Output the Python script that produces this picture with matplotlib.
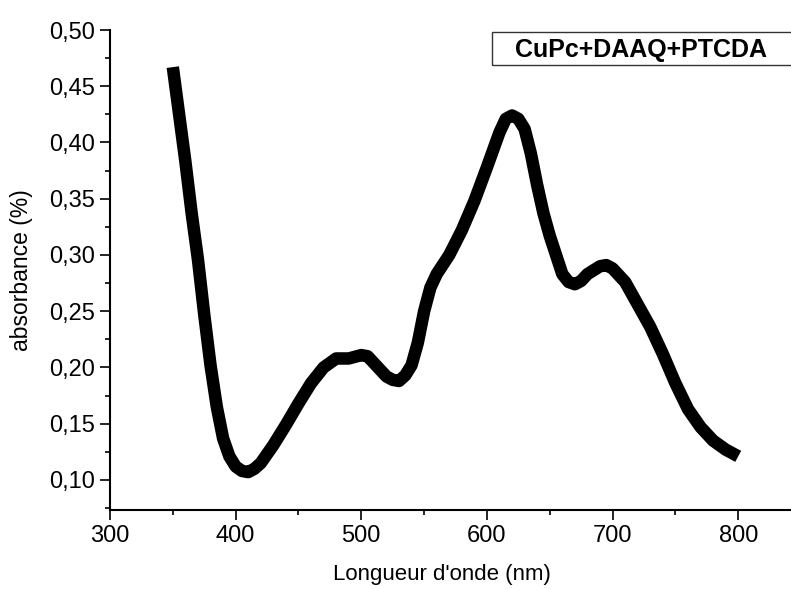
import matplotlib
matplotlib.use("Agg")
import matplotlib.pyplot as plt
from matplotlib.patches import Rectangle
from matplotlib.ticker import MultipleLocator, FuncFormatter

# Absorption spectrum of the CuPc+DAAQ+PTCDA film
wavelength_nm = [350, 355, 360, 365, 370, 375, 380, 385, 390, 395, 400, 405, 410,
                 415, 420, 430, 440, 450, 460, 470, 480, 490, 500, 505, 510, 520,
                 525, 530, 535, 540, 545, 550, 555, 560, 570, 580, 590, 600, 610,
                 615, 620, 625, 630, 635, 640, 645, 650, 655, 660, 665, 670, 675,
                 680, 690, 695, 700, 710, 720, 730, 740, 750, 760, 770, 780, 790, 800]
absorbance = [0.467, 0.425, 0.383, 0.337, 0.296, 0.247, 0.202, 0.165, 0.137, 0.121,
              0.112, 0.108, 0.107, 0.110, 0.115, 0.131, 0.149, 0.168, 0.186, 0.200,
              0.208, 0.208, 0.211, 0.210, 0.204, 0.192, 0.189, 0.188, 0.193, 0.202,
              0.222, 0.250, 0.271, 0.283, 0.300, 0.322, 0.348, 0.378, 0.409, 0.421,
              0.424, 0.421, 0.412, 0.390, 0.362, 0.337, 0.317, 0.300, 0.283, 0.276,
              0.274, 0.277, 0.283, 0.290, 0.291, 0.288, 0.276, 0.256, 0.236, 0.212,
              0.186, 0.163, 0.147, 0.135, 0.127, 0.121]

sample_name = "CuPc+DAAQ+PTCDA"
x_ticks = [300, 400, 500, 600, 700, 800]
y_ticks = [0.10, 0.15, 0.20, 0.25, 0.30, 0.35, 0.40, 0.45, 0.50]

plt.rcParams["font.family"] = ["Liberation Sans", "DejaVu Sans"]

W, H = 791, 589
fig = plt.figure(figsize=(W / 100, H / 100), dpi=100)
ax = fig.add_axes([110 / W, (H - 510) / H, (W - 110) / W, 480 / H])

ax.plot(wavelength_nm, absorbance, color="black", linewidth=9,
        solid_joinstyle="round", solid_capstyle="butt")

ax.set_xlim(300, 842)
ax.set_ylim(0.0733, 0.50)

ax.set_xticks(x_ticks)
ax.set_yticks(y_ticks)
ax.xaxis.set_minor_locator(MultipleLocator(50))
ax.yaxis.set_minor_locator(MultipleLocator(0.025))
ax.yaxis.set_major_formatter(FuncFormatter(lambda v, p: f"{v:.2f}".replace(".", ",")))

for side in ("top", "right"):
    ax.spines[side].set_visible(False)
for side in ("left", "bottom"):
    ax.spines[side].set_linewidth(1.5)

ax.tick_params(which="major", direction="out", length=7, width=1.2,
               labelsize=17, pad=4)
ax.tick_params(which="minor", direction="out", length=3.6, width=1.2)

ax.set_xlabel("Longueur d'onde (nm)", fontsize=16)
ax.xaxis.set_label_coords(0.4875, -0.113)
ax.set_ylabel("absorbance (%)", fontsize=16.5)
ax.yaxis.set_label_coords(-0.113, 0.5)

# Sample name box in the upper right corner
fig.patches.append(Rectangle((492 / W, 1 - 65 / H), (800 - 492) / W, 33 / H,
                             transform=fig.transFigure, fill=False,
                             edgecolor="#333333", linewidth=1.0))
fig.text(515 / W, 1 - 57 / H, sample_name, fontsize=18, fontweight="bold",
         ha="left", va="baseline")

fig.savefig("out.png", dpi=100)
